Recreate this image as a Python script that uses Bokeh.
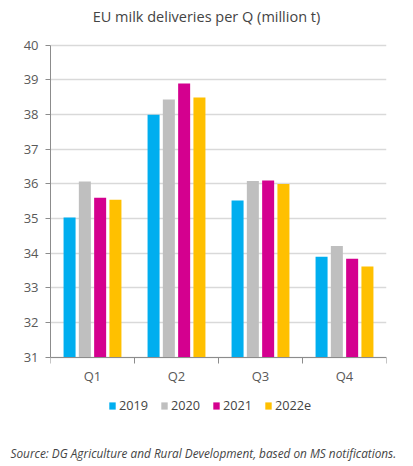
from bokeh.plotting import figure
from bokeh.models import Range1d, FixedTicker, Legend, LegendItem, Title, Label
from bokeh.embed import file_html
from bokeh.resources import INLINE

categories = ["Q1", "Q2", "Q3", "Q4"]
years = ["2019", "2020", "2021", "2022e"]
v2019 = [35.03, 37.99, 35.52, 33.90]
v2020 = [36.07, 38.43, 36.08, 34.21]
v2021 = [35.60, 38.89, 36.10, 33.84]
v2022e = [35.54, 38.49, 36.00, 33.62]
series = [v2019, v2020, v2021, v2022e]
colors = ["#00AEEF", "#BFBFBF", "#D4008F", "#FFC000"]
y_ticks = list(range(31, 41))
title_text = "EU milk deliveries per Q (million t)"
source_text = "Source: DG Agriculture and Rural Development, based on MS notifications."

FONT = "Open Sans"

p = figure(width=413, height=466, output_backend="svg", toolbar_location=None,
           x_range=Range1d(0, len(categories)), y_range=Range1d(28.605, 41.285),
           min_border_left=50, min_border_right=27, min_border_top=0,
           min_border_bottom=26, background_fill_color="white",
           border_fill_color="white")
p.outline_line_color = None

renderers = []
step = 0.182
for j, (yr, vals) in enumerate(zip(years, series)):
    xs = [i + 0.5 + (j - 1.5) * step for i in range(len(categories))]
    r = p.vbar(x=xs, top=vals, bottom=31, width=0.143, fill_color=colors[j],
               line_color=None)
    renderers.append(r)

# grid
p.xgrid.visible = False
p.ygrid.ticker = FixedTicker(ticks=y_ticks)
p.ygrid.grid_line_color = "#d9d9d9"
p.ygrid.grid_line_width = 1.5

# y axis
p.yaxis.ticker = FixedTicker(ticks=y_ticks)
p.yaxis.bounds = (31, 40)
p.yaxis.axis_line_color = "#8c8c8c"
p.yaxis.major_tick_line_color = "#8c8c8c"
p.yaxis.major_tick_out = 5
p.yaxis.major_tick_in = 0
p.yaxis.minor_tick_line_color = None
p.yaxis.major_label_standoff = 7
p.yaxis.major_label_text_font = FONT
p.yaxis.major_label_text_font_size = "13px"
p.yaxis.major_label_text_color = "#595959"

# x axis (drawn at y = 31)
centers = [i + 0.5 for i in range(len(categories))]
xa = p.xaxis[0]
xa.fixed_location = 31
xa.ticker = FixedTicker(ticks=centers, minor_ticks=list(range(len(categories) + 1)))
xa.major_label_overrides = {c: cat for c, cat in zip(centers, categories)}
xa.axis_line_color = "#8c8c8c"
xa.major_tick_out = 0
xa.major_tick_in = 0
xa.minor_tick_out = 6
xa.minor_tick_in = 0
xa.minor_tick_line_color = "#8c8c8c"
xa.major_label_standoff = 4
xa.major_label_text_font = FONT
xa.major_label_text_font_size = "13px"
xa.major_label_text_color = "#595959"

# title (as a text label above the y = 40 line)
title = Label(x=1.857, y=40.81, text=title_text, text_align="center",
              text_baseline="middle", text_font=FONT, text_font_size="14.5px",
              text_color="#444444")
p.add_layout(title)

# legend
legend = Legend(items=[LegendItem(label=yr, renderers=[r]) for yr, r in zip(years, renderers)],
                orientation="horizontal", location=(58, 26),
                glyph_width=8, glyph_height=9, label_standoff=3, spacing=12,
                label_text_font=FONT, label_text_font_size="12.7px",
                label_text_color="#444444", border_line_color=None,
                background_fill_alpha=0, margin=0, padding=4)
p.add_layout(legend)

source = Title(text=source_text,
               align="left", text_font=FONT, text_font_size="11.8px",
               text_font_style="italic", text_color="#444444", standoff=4, offset=-40)
p.add_layout(source, "below")

open("out.html", "w").write(file_html(p, INLINE))
